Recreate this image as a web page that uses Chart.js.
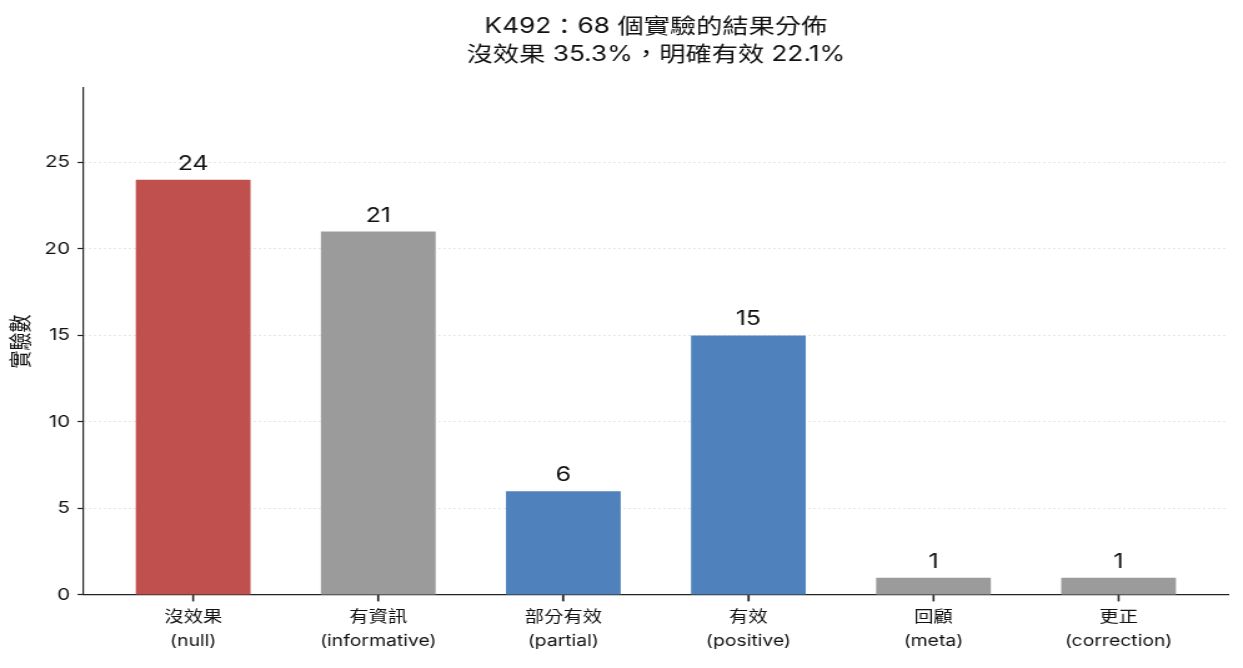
<!DOCTYPE html>
<html><head><meta charset="utf-8">
<script src="https://cdn.jsdelivr.net/npm/chart.js@4"></script>
<style>
html,body{margin:0;padding:0;background:#fff;overflow:hidden;width:1243px;height:668px}
#wrap{width:995px;height:668px;transform:scaleX(1.2492);transform-origin:0 0}
</style>
</head><body><div id="wrap"><canvas id="c"></canvas></div>
<script>
const categories = [["沒效果","(null)"],["有資訊","(informative)"],["部分有效","(partial)"],["有效","(positive)"],["回顧","(meta)"],["更正","(correction)"]];
const counts = [24, 21, 6, 15, 1, 1];
const barColors = ["#c0504d","#9b9b9b","#4f81bd","#4f81bd","#9b9b9b","#9b9b9b"];
const yTicks = [0, 5, 10, 15, 20, 25];
const titleLines = ["K492：68 個實驗的結果分佈","沒效果 35.3%，明確有效 22.1%"];
const yTitle = "實驗數";
const FONT = "Inter, 'Noto Sans CJK TC', sans-serif";

const points = counts.map((v, i) => ({ x: i, y: v }));
const xTicks = categories.map((c, i) => i);

const labelPlugin = {
  id: 'barLabels',
  afterDatasetsDraw(chart) {
    const ctx = chart.ctx;
    const meta = chart.getDatasetMeta(0);
    ctx.save();
    ctx.font = "20px " + FONT;
    ctx.fillStyle = "#111";
    ctx.textAlign = "center";
    ctx.textBaseline = "alphabetic";
    meta.data.forEach((el, i) => {
      ctx.fillText(String(counts[i]), el.x, el.y - 10);
    });
    ctx.restore();
  }
};

const xTickMarks = {
  id: 'xTickMarks',
  afterDraw(chart) {
    const ctx = chart.ctx;
    const xs = chart.scales.x;
    const bottom = chart.chartArea.bottom;
    ctx.save();
    ctx.fillStyle = "#222";
    xTicks.forEach(v => {
      const px = xs.getPixelForValue(v);
      ctx.fillRect(px - 0.7, bottom, 1.4, 6.5);
    });
    ctx.restore();
  }
};

const titlePlugin = {
  id: 'centeredTitle',
  afterDraw(chart) {
    const ctx = chart.ctx;
    const a = chart.chartArea;
    const cx = (a.left + a.right) / 2;
    ctx.save();
    ctx.font = "21px " + FONT;
    ctx.fillStyle = "#111";
    ctx.textAlign = "center";
    ctx.textBaseline = "middle";
    titleLines.forEach((t, i) => ctx.fillText(t, cx, 27 + i * 28));
    ctx.restore();
  }
};

new Chart(document.getElementById('c'), {
  type: 'bar',
  data: {
    datasets: [{ data: points, backgroundColor: barColors, barPercentage: 0.62, categoryPercentage: 1.0 }]
  },
  options: {
    responsive: true,
    maintainAspectRatio: false,
    animation: false,
    layout: { padding: { left: 7, right: 12, top: 88, bottom: 11 } },
    plugins: {
      legend: { display: false },
      tooltip: { enabled: false },
      title: { display: false }
    },
    scales: {
      x: {
        type: 'linear',
        min: -0.591, max: 5.591,
        offset: false,
        afterBuildTicks: (axis) => { axis.ticks = xTicks.map(v => ({ value: v })); },
        grid: { display: true, offset: false, drawOnChartArea: false, drawTicks: true, tickLength: 6, tickColor: "#222", tickWidth: 1.2 },
        border: { display: true, color: "#222", width: 1.3 },
        ticks: { color: "#111", font: { family: FONT, size: 15.5, lineHeight: 1.55 }, padding: 4, maxRotation: 0, autoSkip: false,
                 callback: (v) => categories[v] }
      },
      y: {
        min: 0, max: 29.3,
        afterBuildTicks: (axis) => { axis.ticks = yTicks.map(v => ({ value: v })); },
        grid: { display: true, color: "#dedede", lineWidth: 1, drawTicks: true, tickLength: 5, tickColor: "#222", tickWidth: 1.2, tickBorderDash: [] },
        border: { display: true, color: "#222", width: 1.2, dash: [1.5, 2.5] },
        ticks: { color: "#111", font: { family: FONT, size: 16.5 }, padding: 6 },
        title: { display: true, text: yTitle, color: "#111", font: { family: FONT, size: 18 }, padding: { top: 0, bottom: 1 } }
      }
    }
  },
  plugins: [labelPlugin, xTickMarks, titlePlugin]
});
</script></body></html>
